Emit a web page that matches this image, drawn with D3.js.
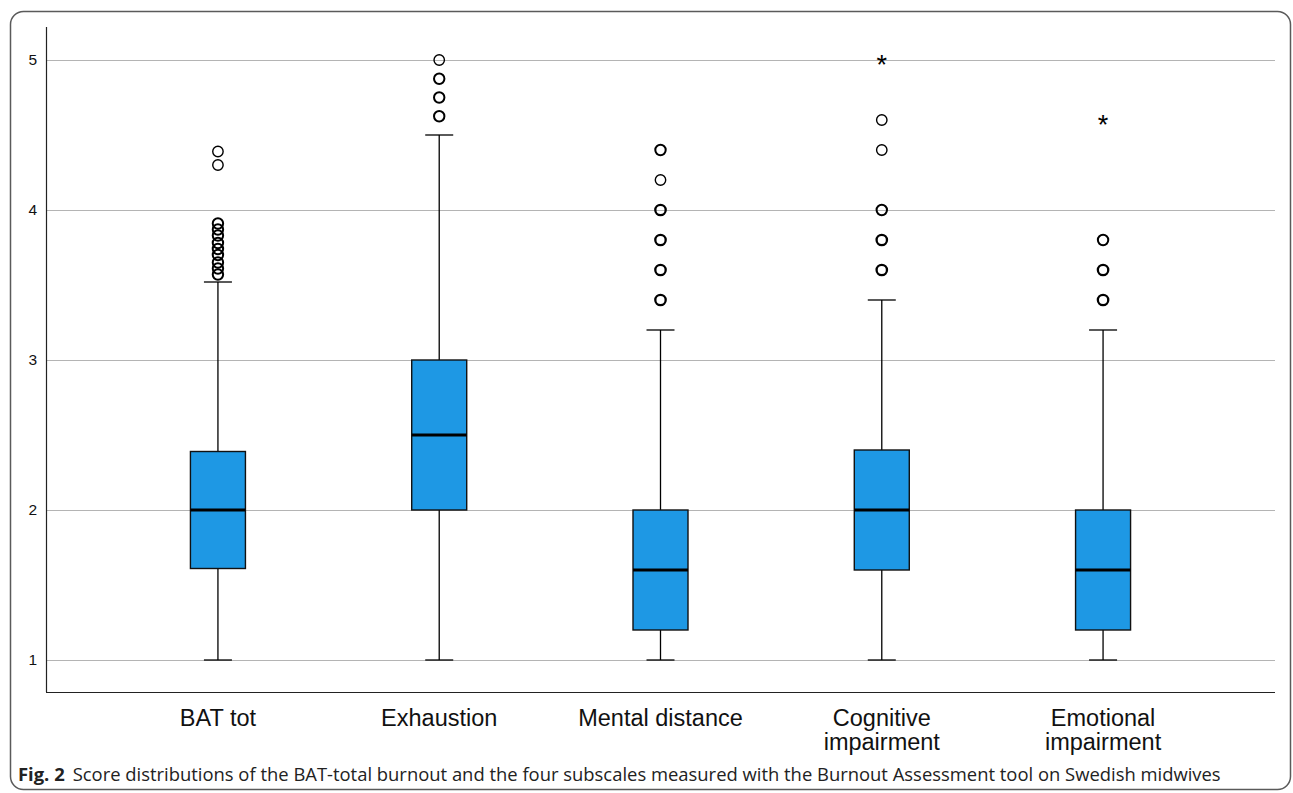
<!DOCTYPE html>
<html>
<head>
<meta charset="utf-8">
<script src="https://cdn.jsdelivr.net/npm/d3@7"></script>
<style>
  html, body { margin: 0; padding: 0; background: #fff; }
  svg { display: block; }
</style>
</head>
<body>
<svg id="chart" width="1293" height="793"></svg>
<script>
// ---- data ----
const categories = ["BAT tot", "Exhaustion", "Mental distance", "Cognitive impairment", "Emotional impairment"];
const categoryLines = [["BAT tot"], ["Exhaustion"], ["Mental distance"], ["Cognitive", "impairment"], ["Emotional", "impairment"]];
const whiskerLow  = [1.0, 1.0, 1.0, 1.0, 1.0];
const q1          = [1.61, 2.0, 1.2, 1.6, 1.2];
const medians     = [2.0, 2.5, 1.6, 2.0, 1.6];
const q3          = [2.39, 3.0, 2.0, 2.4, 2.0];
const whiskerHigh = [3.52, 4.5, 3.2, 3.4, 3.2];
const outliers = [
  [3.57, 3.61, 3.65, 3.70, 3.74, 3.78, 3.83, 3.87, 3.91, 4.30, 4.39],
  [4.625, 4.75, 4.875, 5.0],
  [3.4, 3.6, 3.8, 4.0, 4.2, 4.4],
  [3.6, 3.8, 4.0, 4.4, 4.6],
  [3.4, 3.6, 3.8]
];
// how many cases overlap at each outlier (read from how heavy each ring looks)
const outlierCounts = [
  [2, 2, 2, 2, 2, 2, 2, 2, 2, 1, 1],
  [2, 2, 2, 1],
  [3, 3, 3, 3, 1, 2],
  [3, 3, 2, 1, 1],
  [3, 3, 2]
];
const extremes = [[], [], [], [5.0], [4.6]];
const yTicks = [1, 2, 3, 4, 5];
const caption = { bold: "Fig. 2", text: "Score distributions of the BAT-total burnout and the four subscales measured with the Burnout Assessment tool on Swedish midwives" };

// ---- layout ----
const svg = d3.select("#chart");
const plotLeft = 46, plotRight = 1275, plotTop = 27, plotBottom = 692;

const y = d3.scaleLinear().domain([1, 5]).range([660, 60]);
const x = d3.scalePoint().domain(categories).range([plotLeft, plotRight]).padding(0.777);

// frame
svg.append("rect")
  .attr("x", 10.5).attr("y", 11.5)
  .attr("width", 1280).attr("height", 778)
  .attr("rx", 13).attr("ry", 13)
  .attr("fill", "none").attr("stroke", "#5a5a5a").attr("stroke-width", 1.5);

// gridlines
svg.append("g").selectAll("line").data(yTicks).join("line")
  .attr("x1", plotLeft).attr("x2", plotRight)
  .attr("y1", d => Math.round(y(d)) + 0.5).attr("y2", d => Math.round(y(d)) + 0.5)
  .attr("stroke", "#b4b4b4").attr("stroke-width", 1.2);

// y axis using d3 axis
const yAxis = d3.axisLeft(y).tickValues(yTicks).tickSize(0).tickPadding(9).tickFormat(d3.format("d"));
const yg = svg.append("g").attr("transform", `translate(${plotLeft},0)`).call(yAxis);
yg.select(".domain").remove();
yg.selectAll("text").attr("font-family", "Liberation Sans, Arial, sans-serif").attr("font-size", 15.5).attr("fill", "#111");

// axis lines
svg.append("line").attr("x1", plotLeft + 0.5).attr("x2", plotLeft + 0.5).attr("y1", plotTop).attr("y2", plotBottom)
  .attr("stroke", "#222").attr("stroke-width", 1.2);
svg.append("line").attr("x1", plotLeft).attr("x2", plotRight).attr("y1", plotBottom + 0.5).attr("y2", plotBottom + 0.5)
  .attr("stroke", "#222").attr("stroke-width", 1.2);

// boxes
const boxW = 55, capW = 28;
const g = svg.append("g");
categories.forEach((c, i) => {
  const cx = x(c);
  const gg = g.append("g");
  // whiskers
  gg.append("line").attr("x1", cx).attr("x2", cx).attr("y1", y(whiskerLow[i])).attr("y2", y(q1[i]))
    .attr("stroke", "#000").attr("stroke-width", 1.3);
  gg.append("line").attr("x1", cx).attr("x2", cx).attr("y1", y(q3[i])).attr("y2", y(whiskerHigh[i]))
    .attr("stroke", "#000").attr("stroke-width", 1.3);
  gg.append("line").attr("x1", cx - capW / 2).attr("x2", cx + capW / 2)
    .attr("y1", y(whiskerLow[i])).attr("y2", y(whiskerLow[i])).attr("stroke", "#000").attr("stroke-width", 1.3);
  gg.append("line").attr("x1", cx - capW / 2).attr("x2", cx + capW / 2)
    .attr("y1", y(whiskerHigh[i])).attr("y2", y(whiskerHigh[i])).attr("stroke", "#000").attr("stroke-width", 1.3);
  // box
  gg.append("rect").attr("x", cx - boxW / 2).attr("width", boxW)
    .attr("y", y(q3[i])).attr("height", y(q1[i]) - y(q3[i]))
    .attr("fill", "#1e98e4").attr("stroke", "#111").attr("stroke-width", 1.4);
  // median
  gg.append("line").attr("x1", cx - boxW / 2).attr("x2", cx + boxW / 2)
    .attr("y1", y(medians[i])).attr("y2", y(medians[i])).attr("stroke", "#000").attr("stroke-width", 3);
  // outliers
  const od = outliers[i].map((v, k) => ({ v, n: outlierCounts[i][k] }));
  gg.selectAll("circle").data(od).join("circle")
    .attr("cx", cx).attr("cy", d => y(d.v)).attr("r", 5.2)
    .attr("fill", "none").attr("stroke", "#000")
    .attr("stroke-width", d => d.n >= 3 ? 2.3 : d.n === 2 ? 2.0 : 1.4);
  // extremes
  gg.selectAll("text.ext").data(extremes[i]).join("text").attr("class", "ext")
    .attr("x", cx).attr("y", d => y(d) + 14).attr("text-anchor", "middle")
    .attr("font-family", "Liberation Sans, Arial, sans-serif").attr("font-size", 27)
    .attr("fill", "#000").text("*");
});

// category labels
const lab = svg.append("g");
categories.forEach((c, i) => {
  const t = lab.append("text").attr("x", x(c)).attr("y", 726).attr("text-anchor", "middle")
    .attr("font-family", "Liberation Sans, Arial, sans-serif").attr("font-size", 23.5).attr("fill", "#111");
  categoryLines[i].forEach((ln, j) => {
    t.append("tspan").attr("x", x(c)).attr("dy", j === 0 ? 0 : 24).text(ln);
  });
});

// caption
const cap = svg.append("text").attr("x", 18).attr("y", 781)
  .attr("font-family", "Open Sans, Noto Sans, sans-serif").attr("font-size", 16.5).attr("fill", "#222");
cap.append("tspan").attr("font-weight", "bold").text(caption.bold);
cap.append("tspan").attr("dx", 8).text(caption.text);
const capW0 = cap.node().getComputedTextLength();
cap.attr("font-size", 16.5 * 1196 / capW0);
</script>
</body>
</html>
